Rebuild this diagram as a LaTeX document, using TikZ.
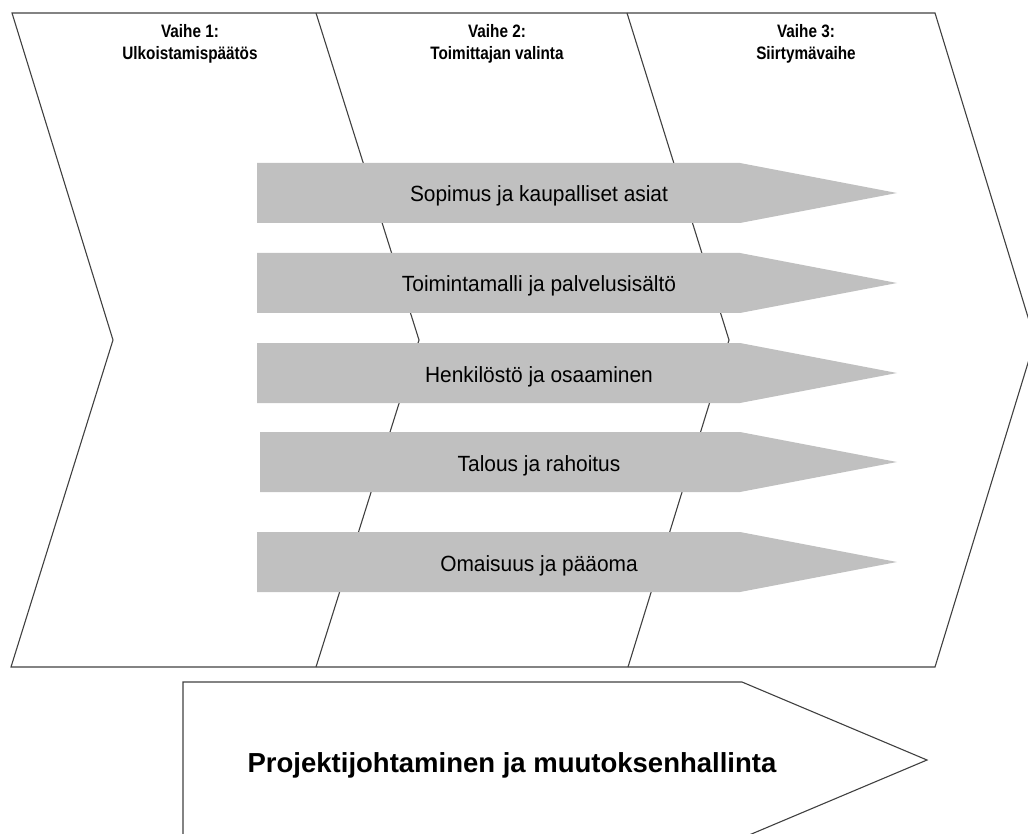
\documentclass[tikz,border=0pt]{standalone}
\usepackage{fontspec}
\setmainfont{Liberation Sans}
\newfontfamily\phasefont[FakeStretch=0.85]{Liberation Sans}
\newfontfamily\bandfont[FakeStretch=0.95]{Liberation Sans}
\definecolor{bandgray}{RGB}{192,192,192}
\begin{document}
\begin{tikzpicture}[x=1pt, y=-1pt,
    outline/.style={draw=black!75, line width=1.1pt, line join=miter},
    band/.style={fill=bandgray},
    phase/.style={align=center, font=\phasefont\bfseries\fontsize{18}{22}\selectfont},
    bandlabel/.style={anchor=base, inner sep=0pt, font=\bandfont\fontsize{22}{26}\selectfont}]
  \useasboundingbox (0,0) rectangle (1028,834);
  \clip (0,0) rectangle (1028,834);
  % phases
  \draw[outline] (12,13) -- (935,13) -- (1035,340) -- (935,667) -- (11,667) -- (113,340) -- cycle;
  \draw[outline] (316,13) -- (419,340) -- (316,667);
  \draw[outline] (627,13) -- (729,340) -- (628,667);
  \node[phase] (vaihe1) at (190,44) {Vaihe 1:\\Ulkoistamispäätös};
  \node[phase] (vaihe2) at (497,44) {Vaihe 2:\\Toimittajan valinta};
  \node[phase] (vaihe3) at (806,44) {Vaihe 3:\\Siirtymävaihe};
  % themes
  \foreach \top/\left/\name/\txt in {163/257/sopimus/Sopimus ja kaupalliset asiat,
      253/257/toiminta/Toimintamalli ja palvelusisältö,
      343/257/henkilosto/Henkilöstö ja osaaminen,
      432/260/talous/Talous ja rahoitus,
      532/257/omaisuus/Omaisuus ja pääoma}
  {
    \fill[band] (\left,\top) -- (740,\top) -- (897,\top+30) -- (740,\top+60) -- (\left,\top+60) -- cycle;
    \node[bandlabel] (\name) at (539,\top+39) {\txt};
  }
  % project management
  \draw[outline] (183,682) -- (742,682) -- (927,760) -- (742,838) -- (183,838) -- cycle;
  \node[anchor=base, font=\bfseries\fontsize{27.5}{32}\selectfont] (projekti) at (512,772) {Projektijohtaminen ja muutoksenhallinta};
\end{tikzpicture}
\end{document}
